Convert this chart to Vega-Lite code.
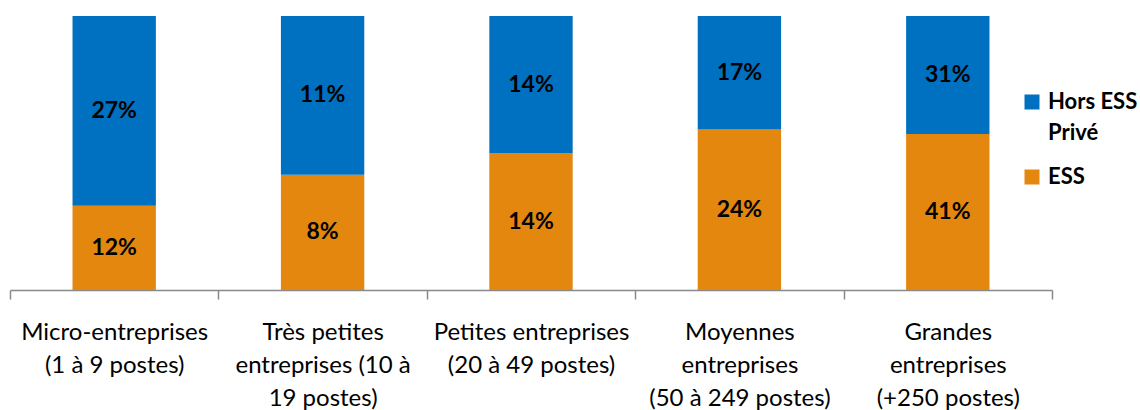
{
  "$schema": "https://vega.github.io/schema/vega-lite/v6.json",
  "width": 1042,
  "height": 274,
  "autosize": {"type": "none"},
  "padding": {"left": 10, "top": 16, "right": 88, "bottom": 120},
  "config": {"view": {"stroke": null}, "font": "Lato", "style": {"guide-label": {"lineHeight": 31}}},
  "data": {
    "values": [
      {"cat": "Micro-entreprises (1 à 9 postes)", "serie": "ESS", "value": 0.12},
      {"cat": "Micro-entreprises (1 à 9 postes)", "serie": "Hors ESS Privé", "value": 0.27},
      {"cat": "Très petites entreprises (10 à 19 postes)", "serie": "ESS", "value": 0.08},
      {"cat": "Très petites entreprises (10 à 19 postes)", "serie": "Hors ESS Privé", "value": 0.11},
      {"cat": "Petites entreprises (20 à 49 postes)", "serie": "ESS", "value": 0.14},
      {"cat": "Petites entreprises (20 à 49 postes)", "serie": "Hors ESS Privé", "value": 0.14},
      {"cat": "Moyennes entreprises (50 à 249 postes)", "serie": "ESS", "value": 0.24},
      {"cat": "Moyennes entreprises (50 à 249 postes)", "serie": "Hors ESS Privé", "value": 0.17},
      {"cat": "Grandes entreprises (+250 postes)", "serie": "ESS", "value": 0.41},
      {"cat": "Grandes entreprises (+250 postes)", "serie": "Hors ESS Privé", "value": 0.31}
    ]
  },
  "encoding": {
    "x": {
      "field": "cat",
      "type": "nominal",
      "sort": null,
      "scale": {"paddingInner": 0, "paddingOuter": 0},
      "axis": {
        "title": null,
        "labelAngle": 0,
        "domainColor": "#898989",
        "domainWidth": 1.5,
        "tickColor": "#898989",
        "tickWidth": 1.5,
        "tickSize": 9,
        "tickBand": "extent",
        "labelFont": "Lato",
        "labelFontSize": 24,
        "labelColor": "#000000",
        "labelPadding": 21,
        "labelLineHeight": 33,
        "labelBaseline": "top",
        "labelLimit": 0,
        "labelExpr": "datum.value == 'Micro-entreprises (1 à 9 postes)' ? ['Micro-entreprises', '(1 à 9 postes)'] : datum.value == 'Très petites entreprises (10 à 19 postes)' ? ['Très petites', 'entreprises (10 à', '19 postes)'] : datum.value == 'Petites entreprises (20 à 49 postes)' ? ['Petites entreprises', '(20 à 49 postes)'] : datum.value == 'Moyennes entreprises (50 à 249 postes)' ? ['Moyennes', 'entreprises', '(50 à 249 postes)'] : datum.value == 'Grandes entreprises (+250 postes)' ? ['Grandes', 'entreprises', '(+250 postes)'] : ''"
      }
    }
  },
  "layer": [
    {
      "mark": {"type": "bar", "width": {"band": 0.4}},
      "encoding": {
        "y": {"field": "value", "type": "quantitative", "stack": "normalize", "axis": null},
        "color": {
          "field": "serie",
          "type": "nominal",
          "scale": {"domain": ["Hors ESS Privé", "ESS"], "range": ["#0070C0", "#E3870F"]},
          "legend": {
            "orient": "none",
            "legendX": 1011,
            "legendY": 75,
            "title": null,
            "symbolType": "square",
            "symbolSize": 225,
            "symbolStrokeWidth": 0,
            "labelFont": "Lato",
            "labelFontWeight": "bold",
            "labelFontSize": 22,
            "labelColor": "#000000",
            "labelOffset": 5,
            "rowPadding": 22,
            "labelLimit": 0,
            "labelExpr": "datum.label == 'Hors ESS Privé' ? ['Hors ESS', 'Privé'] : datum.label"
          }
        },
        "order": {"field": "serie", "sort": "ascending"}
      }
    },
    {
      "mark": {"type": "text", "fontWeight": "bold", "fontSize": 23, "font": "Lato", "color": "#000000"},
      "encoding": {
        "y": {"field": "value", "type": "quantitative", "stack": "normalize", "bandPosition": 0.5},
        "text": {"field": "value", "type": "quantitative", "format": ".0%"},
        "order": {"field": "serie", "sort": "ascending"}
      }
    }
  ]
}
